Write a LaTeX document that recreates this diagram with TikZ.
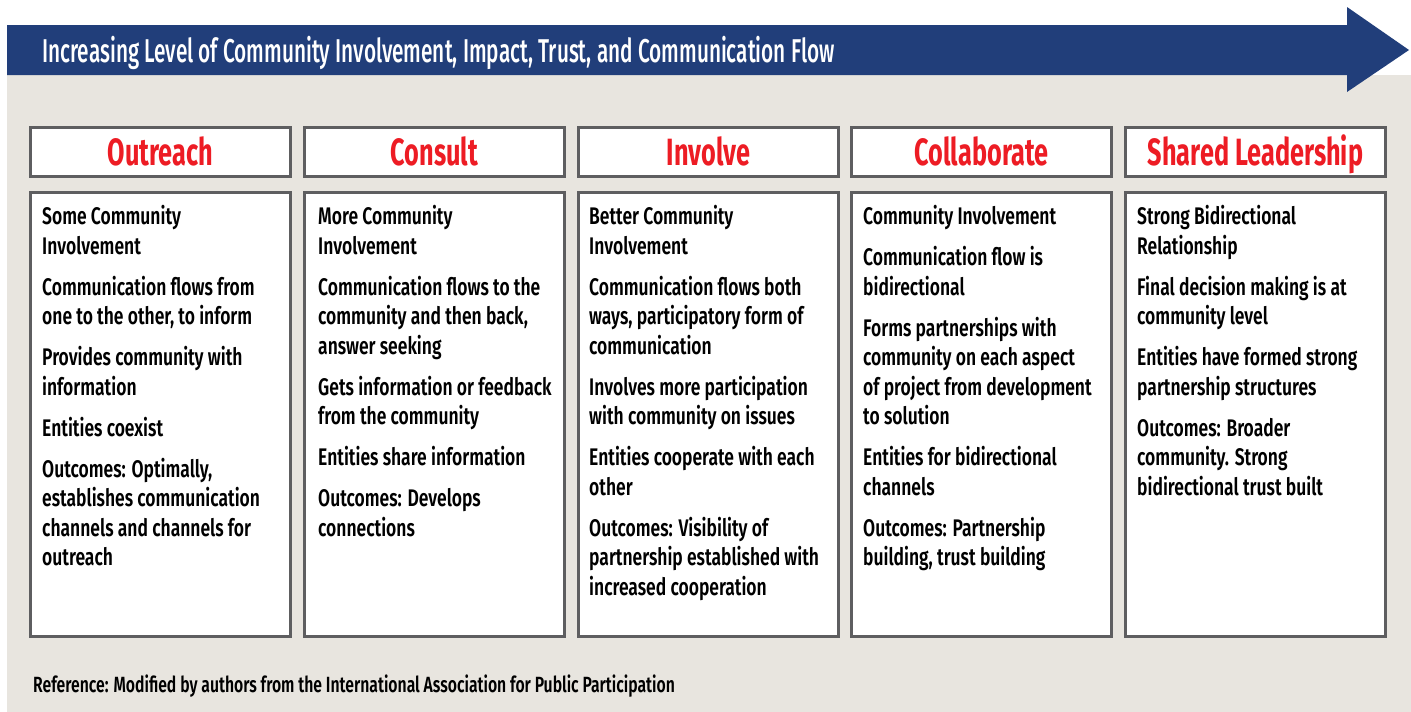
\documentclass[tikz,border=0pt]{standalone}
\usepackage{fontspec}
\IfFontExistsTF{Fira Sans SemiBold}{%
  \newfontfamily\bodyfont{Fira Sans SemiBold}[FakeStretch=0.728]
  \newfontfamily\notefont{Fira Sans SemiBold}[FakeStretch=0.715]
}{%
  \newfontfamily\bodyfont{Fira Sans}[FakeStretch=0.745]
  \newfontfamily\notefont{Fira Sans}[FakeStretch=0.73]
}
\IfFontExistsTF{Fira Sans Medium}{%
  \newfontfamily\titlefont{Fira Sans Medium}[FakeStretch=0.63]
}{%
  \newfontfamily\titlefont{Fira Sans}[FakeStretch=0.63]
}
\IfFontExistsTF{Fira Sans Bold}{%
  \newfontfamily\headfont{Fira Sans Bold}[FakeStretch=0.665]
}{%
  \newfontfamily\headfont{Fira Sans}[FakeStretch=0.68]
}

\definecolor{arrowblue}{RGB}{33,62,122}
\definecolor{panelbg}{RGB}{232,229,223}
\definecolor{boxline}{RGB}{94,94,96}
\definecolor{headred}{RGB}{237,28,36}

\tikzset{
  headbox/.style={draw=boxline, line width=3pt, fill=white,
    minimum width=260pt, minimum height=49pt, inner sep=0pt,
    text=headred, font=\headfont\fontsize{38}{38}\selectfont,
    text height=26pt, text depth=0pt},
  bodybox/.style={draw=boxline, line width=3pt, fill=white,
    minimum width=260pt, minimum height=444pt, inner sep=0pt},
  bodytext/.style={anchor=north west, inner sep=0pt, align=left,
    text=black, font=\bodyfont\fontsize{24}{29.5}\selectfont},
  titletext/.style={anchor=base west, inner sep=0pt, text=white,
    font=\titlefont\fontsize{33}{33}\selectfont},
  reftext/.style={anchor=base west, inner sep=0pt, text=black,
    font=\notefont\fontsize{22}{22}\selectfont},
}
\newcommand{\gap}{\\[11.5pt]}

\begin{document}
\begin{tikzpicture}[x=1pt,y=-1pt]
\useasboundingbox (0,0) rectangle (1411,712);
\fill[white] (0,0) rectangle (1411,712);

% panel background
\fill[panelbg] (7,75) rectangle (1411,712);

% banner arrow
\fill[arrowblue] (7,25) -- (1347,25) -- (1347,7) -- (1409,50)
  -- (1347,92) -- (1347,75) -- (7,75) -- cycle;
\node[titletext] (title) at (42,62)
  {Increasing Level of Community Involvement, Impact, Trust, and Communication Flow};

% column headers
\node[headbox] (h1) at (160.5,152) {Outreach};
\node[headbox] (h2) at (434.5,152) {Consult};
\node[headbox] (h3) at (708.5,152) {Involve};
\node[headbox] (h4) at (981.5,152) {Collaborate};
\node[headbox] (h5) at (1255.5,152) {Shared Leadership};

% column bodies
\node[bodybox] (b1) at (160.5,414.5) {};
\node[bodybox] (b2) at (434.5,414.5) {};
\node[bodybox] (b3) at (708.5,414.5) {};
\node[bodybox] (b4) at (981.5,414.5) {};
\node[bodybox] (b5) at (1255.5,414.5) {};

\node[bodytext] (t1) at ([xshift=13pt,yshift=-14.5pt]b1.north west)
  {Some Community\\Involvement\gap
   Communication flows from\\one to the other, to inform\gap
   Provides community with\\information\gap
   Entities coexist\gap
   Outcomes: Optimally,\\establishes communication\\channels and channels for\\outreach};
\node[bodytext] (t2) at ([xshift=15pt,yshift=-14.5pt]b2.north west)
  {More Community\\Involvement\gap
   Communication flows to the\\community and then back,\\answer seeking\gap
   Gets information or feedback\\from the community\gap
   Entities share information\gap
   Outcomes: Develops\\connections};
\node[bodytext] (t3) at ([xshift=12pt,yshift=-14.5pt]b3.north west)
  {Better Community\\Involvement\gap
   Communication flows both\\ways, participatory form of\\communication\gap
   Involves more participation\\with community on issues\gap
   Entities cooperate with each\\other\gap
   Outcomes: Visibility of\\partnership established with\\increased cooperation};
\node[bodytext] (t4) at ([xshift=13pt,yshift=-14.5pt]b4.north west)
  {Community Involvement\gap
   Communication flow is\\bidirectional\gap
   Forms partnerships with\\community on each aspect\\of project from development\\to solution\gap
   Entities for bidirectional\\channels\gap
   Outcomes: Partnership\\building, trust building};
\node[bodytext] (t5) at ([xshift=13pt,yshift=-14.5pt]b5.north west)
  {Strong Bidirectional\\Relationship\gap
   Final decision making is at\\community level\gap
   Entities have formed strong\\partnership structures\gap
   Outcomes: Broader\\community. Strong\\bidirectional trust built};

% source note
\node[reftext] (ref) at (33,692)
  {Reference: Modified by authors from the International Association for Public Participation};
\end{tikzpicture}
\end{document}
